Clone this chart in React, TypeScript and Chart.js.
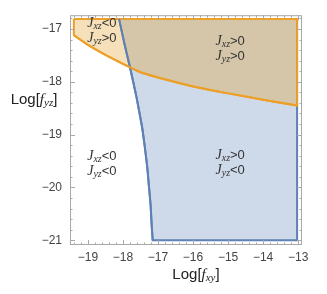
import React, { useEffect, useRef } from 'react';
import { Chart, registerables } from 'chart.js';
Chart.register(...registerables);

// tick values
const xTicks = [-19, -18, -17, -16, -15, -14, -13];
const yTicks = [-17, -18, -19, -20, -21];

// boundary J_xz = 0 (blue region, J_xz > 0 to the right)
const blueCurveX = [-18.11, -17.95, -17.79, -17.61, -17.45, -17.38, -17.31, -17.26, -17.21, -17.18, -17.15];
const blueCurveY = [-16.81, -17.3, -17.75, -18.3, -18.87, -19.21, -19.59, -19.96, -20.34, -20.71, -21.0];

// boundary J_yz = 0 (orange region, J_yz > 0 above)
const orangeCurveX = [-19.4, -19.0, -18.5, -18.0, -17.5, -17.0, -16.0, -15.0, -14.0, -13.03];
const orangeCurveY = [-17.12, -17.3, -17.49, -17.66, -17.82, -17.92, -18.09, -18.22, -18.34, -18.45];

// region extents
const regionTop = -16.81;
const regionBottom = -21.0;
const regionRight = -13.03;
const orangeLeft = -19.4;

// plot range
const xMin = -19.51;
const xMax = -12.89;
const yMin = -21.09;
const yMax = -16.74;

// region annotations (data coordinates)
const regionLabelX = [-18.6, -14.94, -18.6, -14.94];
const regionLabelY = [-17.04, -17.37, -19.55, -19.53];
const regionXz = ['<0', '>0', '<0', '>0'];
const regionYz = ['>0', '>0', '<0', '<0'];

const SANS = '"Liberation Sans", Arial, sans-serif';
const SERIF = '"Liberation Serif", "Times New Roman", serif';

const BLUE = 'rgb(94,129,181)';
const ORANGE = 'rgb(236,160,40)';

type Seg = { t: string; f: string; dy?: number };

function drawRich(ctx: CanvasRenderingContext2D, segs: Seg[], cx: number, cy: number, color: string) {
  ctx.save();
  ctx.fillStyle = color;
  ctx.textBaseline = 'middle';
  ctx.textAlign = 'left';
  let w = 0;
  for (const s of segs) {
    ctx.font = s.f;
    w += ctx.measureText(s.t).width;
  }
  let x = cx - w / 2;
  for (const s of segs) {
    ctx.font = s.f;
    ctx.fillText(s.t, x, cy + (s.dy || 0));
    x += ctx.measureText(s.t).width;
  }
  ctx.restore();
}

const fmt = (v: number) => (v < 0 ? '\u2212' + Math.abs(v) : String(v));

const decor = {
  id: 'decor',
  afterDatasetsDraw(chart: any) {
    const { ctx, chartArea: a, scales } = chart;
    const xs = scales.x;
    const ys = scales.y;
    ctx.save();
    ctx.strokeStyle = '#a8a8a8';
    ctx.lineWidth = 1;
    ctx.strokeRect(a.left + 0.5, a.top + 0.5, a.right - a.left - 1, a.bottom - a.top - 1);
    ctx.beginPath();
    const minorStep = 0.2;
    for (let i = Math.ceil(xMin / minorStep); i <= Math.floor(xMax / minorStep); i++) {
      const v = i * minorStep;
      const major = i % 5 === 0;
      const len = major ? 5 : 2.5;
      const px = Math.round(xs.getPixelForValue(v)) + 0.5;
      ctx.moveTo(px, a.bottom);
      ctx.lineTo(px, a.bottom - len);
      ctx.moveTo(px, a.top);
      ctx.lineTo(px, a.top + len);
    }
    for (let i = Math.ceil(yMin / minorStep); i <= Math.floor(yMax / minorStep); i++) {
      const v = i * minorStep;
      const major = i % 5 === 0;
      const len = major ? 5 : 2.5;
      const py = Math.round(ys.getPixelForValue(v)) + 0.5;
      ctx.moveTo(a.left, py);
      ctx.lineTo(a.left + len, py);
      ctx.moveTo(a.right, py);
      ctx.lineTo(a.right - len, py);
    }
    ctx.stroke();
    ctx.restore();

    // region labels
    const big = `italic 14px ${SERIF}`;
    const sub = `italic 10px ${SERIF}`;
    const rel = `13px ${SANS}`;
    for (let k = 0; k < regionLabelX.length; k++) {
      const cx = xs.getPixelForValue(regionLabelX[k]);
      const cy = ys.getPixelForValue(regionLabelY[k]);
      drawRich(ctx, [{ t: 'J', f: big }, { t: 'xz', f: sub, dy: 3 }, { t: regionXz[k], f: rel }], cx, cy - 7.5, '#333');
      drawRich(ctx, [{ t: 'J', f: big }, { t: 'yz', f: sub, dy: 3 }, { t: regionYz[k], f: rel }], cx, cy + 7.5, '#333');
    }

    // axis titles
    const tf = `15px ${SANS}`;
    const fi = `italic 15px ${SERIF}`;
    const fs = `italic 11px ${SERIF}`;
    drawRich(ctx, [{ t: 'Log[', f: tf }, { t: 'f', f: fi }, { t: 'yz', f: fs, dy: 3 }, { t: ']', f: tf }], a.left - 36, 100, '#222');
    drawRich(ctx, [{ t: 'Log[', f: tf }, { t: 'f', f: fi }, { t: 'xy', f: fs, dy: 3 }, { t: ']', f: tf }], 196, a.bottom + 30, '#222');
  },
};

export default function App() {
  const ref = useRef<HTMLCanvasElement>(null);
  useEffect(() => {
    document.body.style.margin = '0';
    const blueCurve = blueCurveX.map((x, i) => ({ x, y: blueCurveY[i] }));
    const blue: { x: number; y: number }[] = blueCurve.slice();
    blue.push({ x: regionRight, y: regionBottom });
    blue.push({ x: regionRight, y: regionTop });
    blue.push({ x: blueCurveX[0], y: blueCurveY[0] });

    const orangeCurve = orangeCurveX.map((x, i) => ({ x, y: orangeCurveY[i] }));
    const orange: { x: number; y: number }[] = [{ x: orangeLeft, y: regionTop }, ...orangeCurve];
    orange.push({ x: regionRight, y: regionTop });
    orange.push({ x: orangeLeft, y: regionTop });

    const chart = new Chart(ref.current!, {
      type: 'scatter',
      data: {
        datasets: [
          {
            data: blue,
            showLine: true,
            fill: 'shape',
            backgroundColor: 'rgba(94,129,181,0.3)',
            borderColor: BLUE,
            borderWidth: 2,
            pointRadius: 0,
            tension: 0,
            order: 4,
          } as any,
          {
            data: orange,
            showLine: true,
            fill: 'shape',
            backgroundColor: 'rgba(228,158,36,0.32)',
            borderColor: ORANGE,
            borderWidth: 2,
            pointRadius: 0,
            tension: 0,
            order: 3,
          } as any,
          {
            data: blueCurve,
            showLine: true,
            fill: false,
            borderColor: BLUE,
            borderWidth: 2,
            pointRadius: 0,
            tension: 0.3,
            order: 2,
          } as any,
          {
            data: orangeCurve,
            showLine: true,
            fill: false,
            borderColor: ORANGE,
            borderWidth: 2,
            pointRadius: 0,
            tension: 0.3,
            order: 1,
          } as any,
        ],
      },
      options: {
        animation: false,
        responsive: false,
        layout: { padding: { top: 13, right: 25, left: 0, bottom: 0 } },
        plugins: { legend: { display: false }, tooltip: { enabled: false } },
        scales: {
          x: {
            type: 'linear',
            min: xMin,
            max: xMax,
            afterBuildTicks: (s: any) => {
              s.ticks = xTicks.map((v) => ({ value: v }));
            },
            afterFit: (s: any) => {
              s.height = 49;
            },
            grid: { display: false, drawTicks: false },
            border: { display: false },
            ticks: {
              padding: 5,
              autoSkip: false,
              maxRotation: 0,
              color: '#444',
              font: { size: 12, family: SANS },
              callback: (v: any) => fmt(Number(v)),
            },
          },
          y: {
            type: 'linear',
            min: yMin,
            max: yMax,
            afterBuildTicks: (s: any) => {
              s.ticks = yTicks.map((v) => ({ value: v }));
            },
            afterFit: (s: any) => {
              s.width = 70;
            },
            grid: { display: false, drawTicks: false },
            border: { display: false },
            ticks: {
              padding: 8,
              autoSkip: false,
              color: '#444',
              font: { size: 12, family: SANS },
              callback: (v: any) => fmt(Number(v)),
            },
          },
        },
      },
      plugins: [decor],
    });
    return () => chart.destroy();
  }, []);
  return <canvas ref={ref} width={327} height={294} style={{ display: 'block', width: 327, height: 294 }} />;
}
